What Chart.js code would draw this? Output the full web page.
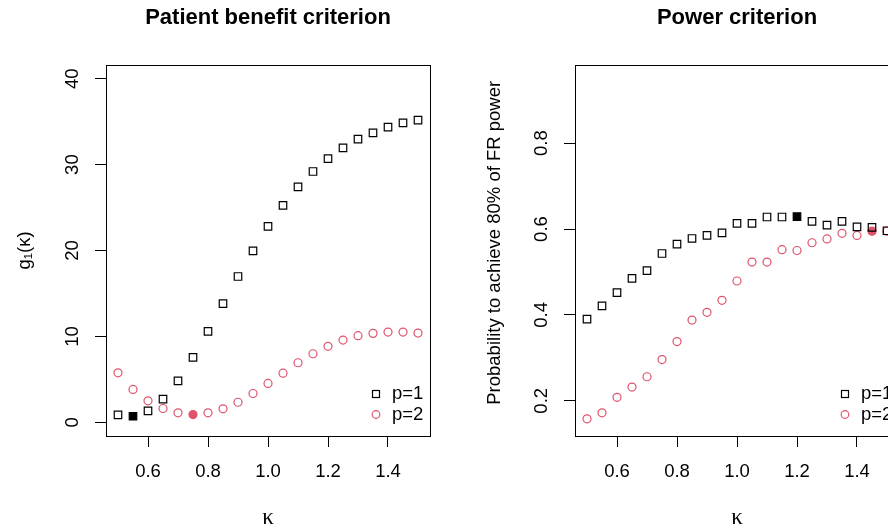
<!DOCTYPE html>
<html>
<head>
<meta charset="utf-8">
<script src="https://cdn.jsdelivr.net/npm/chart.js@4.4.1/dist/chart.umd.min.js"></script>
<style>
  body { margin: 0; width: 888px; height: 529px; overflow: hidden; background: #fff; position: relative; }
  .panel { position: absolute; top: 0; width: 469px; height: 529px; }
  #leftPanel { left: 0; }
  #rightPanel { left: 469px; }
</style>
</head>
<body>
<div class="panel" id="leftPanel"><canvas id="benefitChart" width="469" height="529"></canvas></div>
<div class="panel" id="rightPanel"><canvas id="powerChart" width="469" height="529"></canvas></div>
<script>
// kappa grid (x)
const kappa = [0.5, 0.55, 0.6, 0.65, 0.7, 0.75, 0.8, 0.85, 0.9, 0.95, 1.0,
               1.05, 1.1, 1.15, 1.2, 1.25, 1.3, 1.35, 1.4, 1.45, 1.5];
const seriesLabels = ['p=1', 'p=2'];

// Patient benefit criterion g1(kappa)
const benefitP1 = [0.86, 0.7, 1.33, 2.69, 4.83, 7.55, 10.59, 13.82, 16.97, 19.96, 22.8,
                   25.26, 27.4, 29.2, 30.7, 31.95, 32.96, 33.7, 34.36, 34.87, 35.18];
const benefitP2 = [5.76, 3.82, 2.5, 1.6, 1.1, 0.9, 1.1, 1.56, 2.33, 3.35, 4.52,
                   5.72, 6.93, 7.98, 8.84, 9.57, 10.08, 10.35, 10.5, 10.5, 10.39];
const benefitBest = [0.55, 0.75];   // filled markers for p=1, p=2

// Power criterion
const powerP1 = [0.390, 0.421, 0.452, 0.485, 0.503, 0.543, 0.565, 0.578, 0.585, 0.591, 0.613,
                 0.613, 0.628, 0.628, 0.629, 0.618, 0.609, 0.618, 0.605, 0.604, 0.596];
const powerP2 = [0.158, 0.172, 0.208, 0.232, 0.256, 0.296, 0.338, 0.388, 0.406, 0.434, 0.479,
                 0.523, 0.523, 0.552, 0.550, 0.568, 0.577, 0.590, 0.585, 0.595, 0.595];
const powerBest = [1.2, 1.45];

// ticks
const kappaTicks = [0.6, 0.8, 1.0, 1.2, 1.4];
const benefitTicks = [0, 10, 20, 30, 40];
const powerTicks = [0.2, 0.4, 0.6, 0.8];

const RED = '#DF536B';
const SANS = '"Liberation Sans", Arial, Helvetica, sans-serif';
Chart.defaults.font.family = SANS;
Chart.defaults.font.size = 18.5;
Chart.defaults.color = '#000';

// box around the plot region, like R's box()
const boxPlugin = {
  id: 'box',
  afterDraw(chart) {
    const { ctx, chartArea: a } = chart;
    ctx.save();
    ctx.strokeStyle = '#000';
    ctx.lineWidth = 1;
    ctx.strokeRect(a.left + 0.5, a.top + 0.5, a.right - a.left, a.bottom - a.top);
    ctx.restore();
  }
};

// legend in the lower right corner, no frame
const cornerLegend = {
  id: 'cornerLegend',
  afterDraw(chart) {
    const { ctx, chartArea: a } = chart;
    ctx.save();
    chart.data.datasets.forEach((ds, i) => {
      const y = a.bottom - 42 + i * 20.5;
      const x = a.right - 54;
      ctx.lineWidth = 1.2;
      ctx.strokeStyle = ds.borderColor;
      if (ds.pointStyle === 'rect') {
        ctx.strokeRect(x - 3.5, y - 3.5, 7, 7);
      } else {
        ctx.beginPath();
        ctx.arc(x, y, 3.8, 0, Math.PI * 2);
        ctx.stroke();
      }
      ctx.fillStyle = '#000';
      ctx.font = '18.5px ' + SANS;
      ctx.textBaseline = 'middle';
      ctx.textAlign = 'left';
      ctx.fillText(ds.label, a.right - 38, y);
    });
    ctx.restore();
  }
};

function makeSeries(label, ys, best, style, color, radius) {
  return {
    label: label,
    data: kappa.map((x, i) => ({ x: x, y: ys[i] })),
    showLine: false,
    pointStyle: style,
    pointRadius: radius,
    pointBorderWidth: 1.2,
    borderColor: color,
    pointBorderColor: color,
    pointBackgroundColor: kappa.map(x => (x === best ? color : 'rgba(0,0,0,0)'))
  };
}

function tickAxis(ticks, fmt) {
  return {
    afterBuildTicks: s => { s.ticks = ticks.map(v => ({ value: v })); },
    ticks: { callback: v => fmt(v) },
    grid: { drawOnChartArea: false, drawTicks: true, tickLength: 11, color: '#000', lineWidth: 1 },
    border: { display: false }
  };
}

function makeChart(id, cfg) {
  const xAxis = tickAxis(kappaTicks, v => v.toFixed(1));
  Object.assign(xAxis, {
    type: 'linear', min: 0.46, max: 1.54,
    afterFit: s => { s.height = 93; },
    title: { display: true, text: 'κ', font: { family: '"Liberation Serif", "DejaVu Serif", serif', size: 23, lineHeight: 1 }, padding: { top: 0, bottom: 0 } }
  });
  xAxis.ticks.padding = 13.6;
  xAxis.ticks.maxRotation = 0;

  const yAxis = tickAxis(cfg.yTicks, cfg.yFmt);
  Object.assign(yAxis, {
    type: 'linear', min: cfg.yMin, max: cfg.yMax,
    afterFit: s => { s.width = 106; },
    title: { display: true, text: cfg.yTitle, padding: { top: cfg.yTitlePad, bottom: 0 } }
  });
  yAxis.ticks.minRotation = 90;
  yAxis.ticks.maxRotation = 90;
  yAxis.ticks.crossAlign = 'center';
  yAxis.ticks.padding = cfg.yTickPad;

  return new Chart(document.getElementById(id), {
    type: 'scatter',
    data: {
      datasets: [
        makeSeries(seriesLabels[0], cfg.p1, cfg.best[0], 'rect', '#000', 5.3),
        makeSeries(seriesLabels[1], cfg.p2, cfg.best[1], 'circle', RED, 4)
      ]
    },
    options: {
      responsive: false,
      animation: false,
      events: [],
      layout: { padding: { top: 0, right: 39, bottom: 0, left: 0 } },
      plugins: {
        legend: { display: false },
        tooltip: { enabled: false },
        title: {
          display: true, text: cfg.title, fullSize: false,
          font: { size: 22, weight: 'bold' },
          padding: { top: 5, bottom: 33.6 }
        }
      },
      scales: { x: xAxis, y: yAxis }
    },
    plugins: [boxPlugin, cornerLegend]
  });
}

makeChart('benefitChart', {
  title: 'Patient benefit criterion',
  p1: benefitP1, p2: benefitP2, best: benefitBest,
  yMin: -1.6, yMax: 41.6, yTicks: benefitTicks, yFmt: v => String(v),
  yTitle: 'g₁(κ)', yTitlePad: 14, yTickPad: 11.7
});

makeChart('powerChart', {
  title: 'Power criterion',
  p1: powerP1, p2: powerP2, best: powerBest,
  yMin: 0.118, yMax: 0.982, yTicks: powerTicks, yFmt: v => v.toFixed(1),
  yTitle: '   Probability to achieve 80% of FR power', yTitlePad: 15, yTickPad: 9.4
});
</script>
</body>
</html>
